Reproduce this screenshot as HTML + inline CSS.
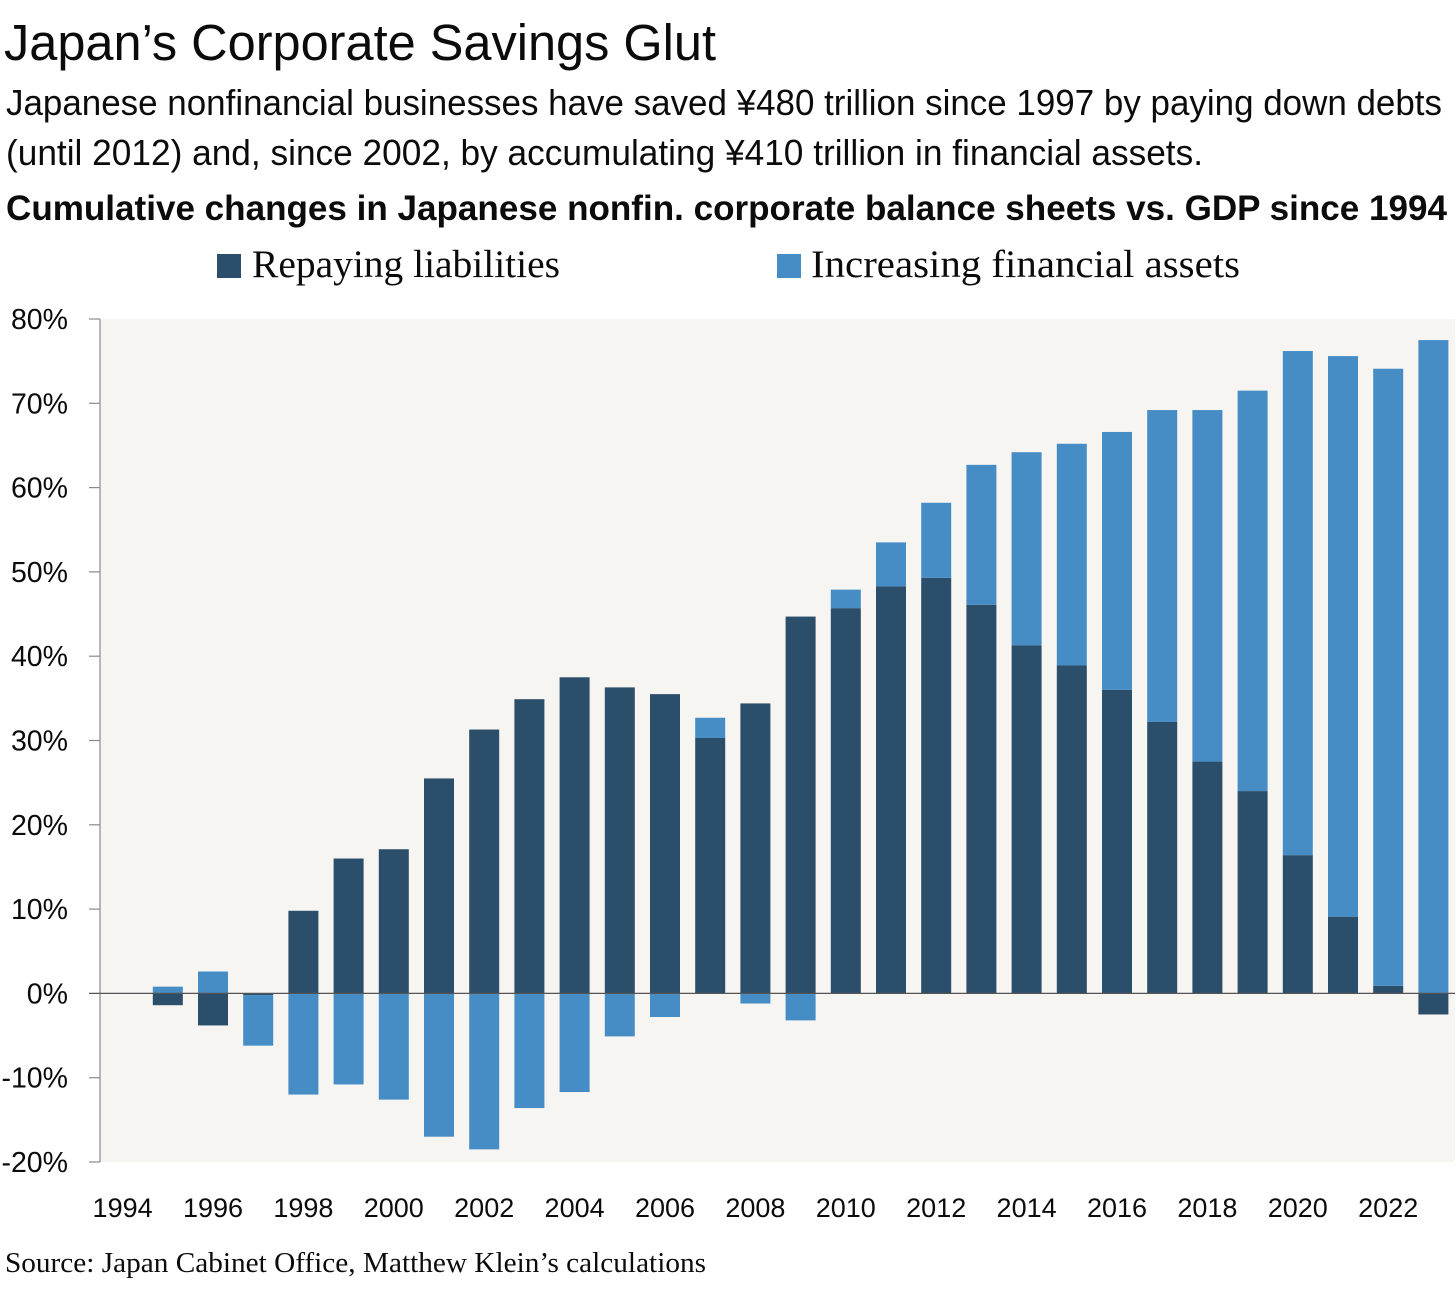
<!DOCTYPE html>
<html lang="en">
<head>
<meta charset="utf-8">
<title>Japan's Corporate Savings Glut</title>
<style>
  html, body { margin: 0; padding: 0; background: #fff; }
  #chart { display: block; width: 1456px; height: 1290px; }
  text { fill: #0b0b0b; font-family: "Liberation Sans", sans-serif; }
  .serif { font-family: "Liberation Serif", serif; }
</style>
</head>
<body>
<svg id="chart" xmlns="http://www.w3.org/2000/svg" width="1456" height="1290" viewBox="0 0 1456 1290">
  <text x="4" y="60" font-size="51" textLength="712" lengthAdjust="spacingAndGlyphs">Japan’s Corporate Savings Glut</text>
  <text x="6" y="115" font-size="36" textLength="1436" lengthAdjust="spacingAndGlyphs">Japanese nonfinancial businesses have saved ¥480 trillion since 1997 by paying down debts</text>
  <text x="6" y="165" font-size="36" textLength="1197" lengthAdjust="spacingAndGlyphs">(until 2012) and, since 2002, by accumulating ¥410 trillion in financial assets.</text>
  <text x="6" y="220" font-size="35" font-weight="700" textLength="1441" lengthAdjust="spacingAndGlyphs">Cumulative changes in Japanese nonfin. corporate balance sheets vs. GDP since 1994</text>

  <g>
    <g>
      <rect x="217" y="254" width="24" height="24" fill="#2b4e6a"/>
      <text class="serif" x="252" y="277" font-size="39" textLength="308" lengthAdjust="spacingAndGlyphs">Repaying liabilities</text>
    </g>
    <g>
      <rect x="777" y="254" width="24" height="24" fill="#468dc5"/>
      <text class="serif" x="811" y="277" font-size="39" textLength="429" lengthAdjust="spacingAndGlyphs">Increasing financial assets</text>
    </g>
  </g>

  <rect x="100" y="319" width="1355" height="843" fill="#f6f5f1"/>
  <g id="bars"></g>
  <g id="axes"></g>

  <text class="serif" x="5" y="1272" font-size="29" textLength="701" lengthAdjust="spacingAndGlyphs">Source: Japan Cabinet Office, Matthew Klein’s calculations</text>
</svg>

<script>
const years = [1994,1995,1996,1997,1998,1999,2000,2001,2002,2003,2004,2005,2006,2007,2008,2009,2010,2011,2012,2013,2014,2015,2016,2017,2018,2019,2020,2021,2022,2023];
const repayingLiabilities = [null,-1.4,-3.8,-0.2,9.8,16.0,17.1,25.5,31.3,34.9,37.5,36.3,35.5,30.3,34.4,44.7,45.7,48.3,49.3,46.1,41.3,38.9,36.0,32.2,27.5,24.0,16.4,9.1,0.9,-2.5];
const increasingAssets = [null,0.8,2.6,-6.0,-12.0,-10.8,-12.6,-17.0,-18.5,-13.6,-11.7,-5.1,-2.8,2.4,-1.2,-3.2,2.2,5.2,8.9,16.6,22.9,26.3,30.6,37.0,41.7,47.5,59.8,66.5,73.2,77.5];
const yTicks = [80,70,60,50,40,30,20,10,0,-10,-20];
const xTickLabels = [1994,1996,1998,2000,2002,2004,2006,2008,2010,2012,2014,2016,2018,2020,2022];

const SVG_NS = 'http://www.w3.org/2000/svg';
const plotLeft = 100, plotRight = 1455, plotTop = 319, plotBottom = 1162;
const xRangeEnd = 1456;
const yMax = 80, yMin = -20;
const barWidth = 30;
const darkColor = '#2b4e6a', lightColor = '#468dc5';

function xScale(year) {
  const band = (xRangeEnd - plotLeft) / years.length;
  return plotLeft + band * (year - years[0] + 0.5);
}
function yScale(value) {
  return plotTop + (yMax - value) / (yMax - yMin) * (plotBottom - plotTop);
}
function make(tag, attrs) {
  const el = document.createElementNS(SVG_NS, tag);
  for (const key in attrs) el.setAttribute(key, attrs[key]);
  return el;
}

const barsGroup = document.getElementById('bars');
const axesGroup = document.getElementById('axes');

years.forEach(function (year, i) {
  let posBase = 0, negBase = 0;
  [[repayingLiabilities[i], darkColor, 'repaying'], [increasingAssets[i], lightColor, 'assets']].forEach(function (part) {
    const value = part[0];
    if (value === null) return;
    const start = value >= 0 ? posBase : negBase;
    const end = start + value;
    if (value >= 0) posBase = end; else negBase = end;
    const top = yScale(Math.max(start, end));
    const bottom = yScale(Math.min(start, end));
    const bar = make('rect', {
      x: xScale(year) - barWidth / 2,
      y: top,
      width: barWidth,
      height: bottom - top,
      fill: part[1]
    });
    
    
    barsGroup.appendChild(bar);
  });
});

const yAxisLine = make('line', { x1: plotLeft, x2: plotLeft, y1: plotTop, y2: plotBottom, stroke: '#8a8a8a', 'stroke-width': 1.2 });


axesGroup.appendChild(yAxisLine);

yTicks.forEach(function (tick) {
  const y = yScale(tick);
  const mark = make('line', { x1: 89, x2: tick === 0 ? plotRight : plotLeft, y1: y, y2: y, stroke: tick === 0 ? '#555' : '#8a8a8a', 'stroke-width': 1.2 });
  
  
  axesGroup.appendChild(mark);
  const label = make('text', { x: 68, y: y + 10, 'text-anchor': 'end', 'font-size': 28.5 });
  
  
  label.textContent = tick + '%';
  axesGroup.appendChild(label);
});

xTickLabels.forEach(function (year) {
  const label = make('text', { x: xScale(year), y: 1217, 'text-anchor': 'middle', 'font-size': 27 });
  
  
  label.textContent = year;
  axesGroup.appendChild(label);
});
</script>
</body>
</html>
